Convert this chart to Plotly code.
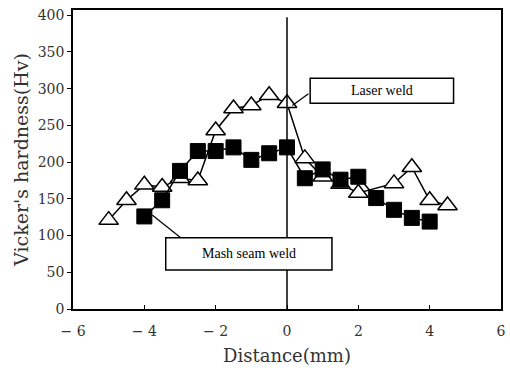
import plotly.graph_objects as go

# Laser weld (open triangles)
laser_x = [-5, -4.5, -4, -3.5, -3, -2.5, -2, -1.5, -1, -0.5, 0, 0.5, 1, 1.5, 2, 3, 3.5, 4, 4.5]
laser_y = [121, 148, 169, 166, 178, 175, 243, 273, 277, 291, 280, 205, 180, 170, 158, 171, 193, 148, 141]

# Mash seam weld (filled squares)
mash_x = [-4, -3.5, -3, -2.5, -2, -1.5, -1, -0.5, 0, 0.5, 1, 1.5, 2, 2.5, 3, 3.5, 4]
mash_y = [126, 148, 188, 215, 215, 220, 203, 212, 220, 178, 190, 176, 180, 151, 135, 124, 119]

x_ticks = [-6, -4, -2, 0, 2, 4, 6]
x_ticktext = ["− 6", "− 4", "− 2", "0", "2", "4", "6"]
y_ticks = [0, 50, 100, 150, 200, 250, 300, 350, 400]

SERIF = "DejaVu Serif"

fig = go.Figure()
fig.add_trace(go.Scatter(
    x=laser_x, y=laser_y, mode="lines+markers", name="Laser weld",
    line=dict(color="black", width=1.5),
    marker=dict(symbol="triangle-up", size=17, color="white",
                line=dict(color="black", width=1.5)),
))
fig.add_trace(go.Scatter(
    x=mash_x, y=mash_y, mode="lines+markers", name="Mash seam weld",
    line=dict(color="black", width=1.5),
    marker=dict(symbol="square", size=15, color="black",
                line=dict(color="black", width=1)),
))

# vertical center line
fig.add_shape(type="line", x0=0, x1=0, y0=0, y1=397, xref="x", yref="y",
              line=dict(color="black", width=1.5), layer="above")
# leader lines
fig.add_shape(type="line", x0=0.15, y0=277, x1=0.6, y1=293, xref="x", yref="y",
              line=dict(color="black", width=1.2), layer="above")
fig.add_shape(type="line", x0=-3.78, y0=128, x1=-2.98, y1=97, xref="x", yref="y",
              line=dict(color="black", width=1.2), layer="above")
# label boxes
fig.add_shape(type="rect", x0=0.65, x1=4.67, y0=280, y1=314, xref="x", yref="y",
              line=dict(color="black", width=1.5), fillcolor="white", layer="above")
fig.add_shape(type="rect", x0=-3.40, x1=1.26, y0=53, y1=97, xref="x", yref="y",
              line=dict(color="black", width=1.5), fillcolor="white", layer="above")

fig.add_annotation(x=2.66, y=297, xref="x", yref="y", text="Laser weld", showarrow=False,
                   font=dict(family="Liberation Serif", size=14, color="black"))
fig.add_annotation(x=-1.07, y=75, xref="x", yref="y", text="Mash seam weld", showarrow=False,
                   font=dict(family="Liberation Serif", size=14, color="black"))

fig.update_layout(
    width=510, height=370,
    margin=dict(l=73, r=4, t=10, b=61),
    paper_bgcolor="white", plot_bgcolor="white",
    showlegend=False,
    font=dict(family=SERIF, color="black"),
    xaxis=dict(
        range=[-6, 6], tickvals=x_ticks, ticktext=x_ticktext,
        showgrid=False, zeroline=False, showline=True, mirror=True,
        linecolor="black", linewidth=1.5,
        ticks="inside", ticklen=4, tickcolor="black",
        ticklabelstandoff=8,
        tickfont=dict(family=SERIF, size=14, color="#333"),
        title=dict(text="Distance(mm)", font=dict(family=SERIF, size=18, color="#333"), standoff=12),
    ),
    yaxis=dict(
        range=[0, 407], tickvals=y_ticks,
        showgrid=False, zeroline=False, showline=True, mirror=True,
        linecolor="black", linewidth=1.5,
        ticks="outside", ticklen=4, tickcolor="black",
        tickfont=dict(family=SERIF, size=14, color="#333"),
        title=dict(text="Vicker's hardness(Hv)", font=dict(family=SERIF, size=19, color="#333"), standoff=4),
    ),
)

fig.write_html("out.html")
